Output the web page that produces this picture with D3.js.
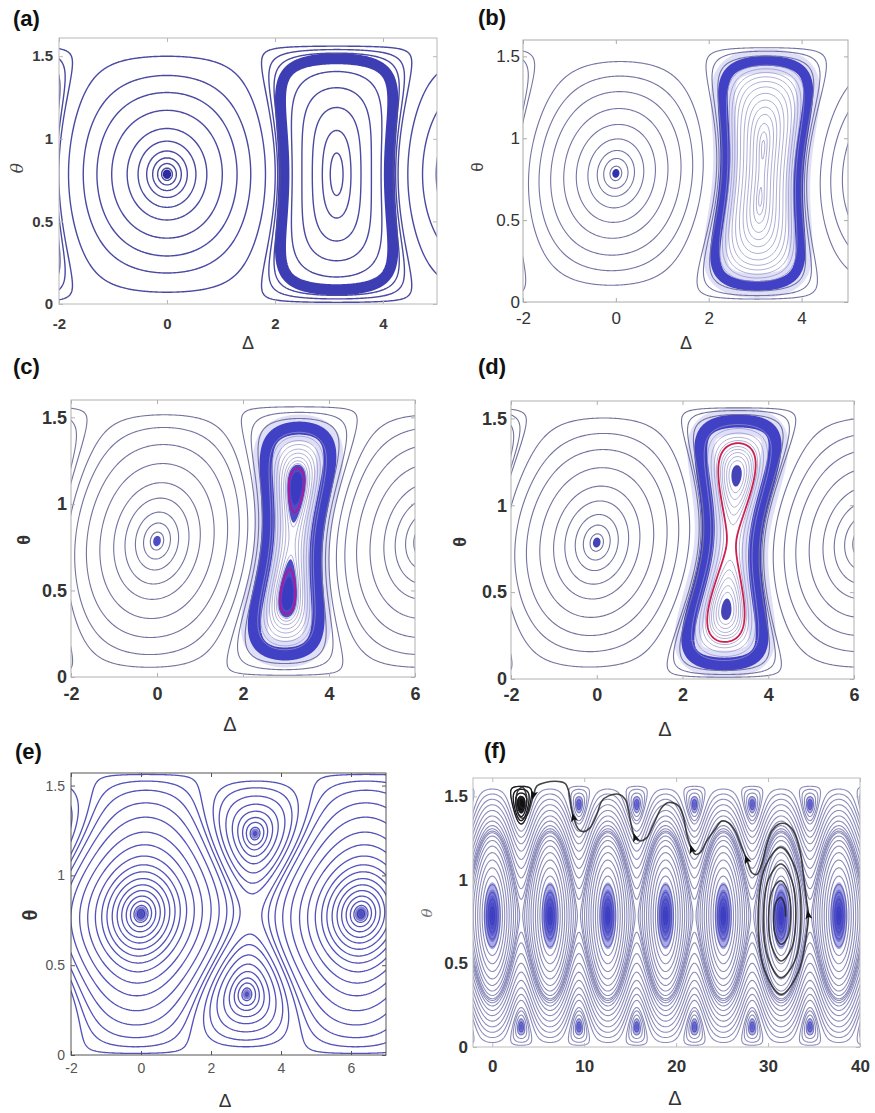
<!DOCTYPE html>
<html>
<head>
<meta charset="utf-8">
<script src="https://cdn.jsdelivr.net/npm/d3@7"></script>
<style>
body { margin: 0; background: #fff; }
svg { display: block; }
</style>
</head>
<body>
<svg id="svg" width="875" height="1113"></svg>
<script>
// ---------------- data ----------------
const panelLabels = ["(a)", "(b)", "(c)", "(d)", "(e)", "(f)"];
// model H = L/2 z^2 + M z^4 - sin(2t) cos(D + k z), with z = cos(2t)
const lambdas = [0.8, 1.05, 1.24, 1.4, 3.52, 4.2];
const quartics = [0, 0, 0, 0, -0.79, 0];
const skews = [0, 0.1, 0.17, 0.17, 0.15, 0];
const deltaRanges = [[-2, 5], [-2, 5], [-2, 6], [-2, 6], [-2, 7], [-2.1, 40]];
const thetaTops = [1.61, 1.6, 1.6, 1.6, 1.57, 1.61];
const deltaTicks = [[-2, 0, 2, 4], [-2, 0, 2, 4], [-2, 0, 2, 4, 6], [-2, 0, 2, 4, 6], [-2, 0, 2, 4, 6], [0, 10, 20, 30, 40]];
const thetaTicks = [0, 0.5, 1, 1.5];

// energy levels of the drawn orbits
const orbitLevels = [
    [-0.995, -0.985, -0.965, -0.93, -0.86, -0.74, -0.52, -0.27, -0.02, 0.25, 0.42, 0.46, 0.5, 0.68, 0.8, 0.9, 0.965, 0.993],
    [-0.992, -0.966, -0.921, -0.825, -0.66, -0.436, -0.17, 0.079, 0.3, 0.56, 0.6, 0.65],
    [-0.988, -0.952, -0.878, -0.739, -0.54, -0.248, 0.059, 0.323, 0.5, 0.64, 0.7, 0.76],
    [-0.988, -0.952, -0.878, -0.739, -0.54, -0.248, 0.059, 0.323, 0.55, 0.72, 0.75, 0.79],
    [-0.995, -0.98, -0.955, -0.913, -0.853, -0.778, -0.682, -0.565, -0.436, -0.267, -0.051, 0.178, 0.416, 0.613, 0.77, 0.877, 0.952,
        1.06, 1.13, 1.21, 1.28, 1.33, 1.365, 1.385, 1.398],
    [-0.97, -0.9, -0.8, -0.65, -0.45, -0.22, 0.02, 0.26, 0.48, 0.67, 0.82, 0.93, 0.985,
        1.06, 1.16, 1.3, 1.45, 1.6, 1.74, 1.86, 1.96, 2.04, 2.12, 2.15, 2.18, 2.2, 2.212]
];
// dense, light orbits inside the attractor band
const faintLevels = [
    [],
    [0.74, 0.77, 0.8, 0.83, 0.86, 0.89, 0.92, 0.945, 0.965, 0.98, 0.992, 0.998, 1.0006],
    [0.87, 0.895, 0.92, 0.94, 0.96, 0.975, 0.988, 0.997, 1.003],
    [0.88, 0.91, 0.94, 0.965, 0.982, 1.008, 1.018, 1.028, 1.038, 1.046],
    [],
    []
];
const bandLevels = [0.56, 0.70, 0.84, 0.85, null, null];   // thick limit-cycle band
const redLevels = [[], [], [1.011], [0.994], [], []];
const minDots = [[-0.997], [-0.997], [-0.996], [-0.996], [-0.985, -0.997], [-0.6, -0.75, -0.85, -0.93, -0.97, -0.99]];
const maxDots = [[], [], [1.005, 1.016], [1.052], [1.4, 1.403], [2.2, 2.21, 2.216]];

// trajectory of panel (f): spiral out of the centre at 31.4, then along the waves to the island at 3.2
const trajDelta = [31.9, 31.8, 31.4, 30.9, 30.62, 30.8, 31.4, 32.1, 32.46, 32.2, 31.4, 30.5, 30.06, 30.4, 31.4, 32.5,
    33.02, 32.6, 31.4, 30.11, 29.5, 30.01, 31.4, 32.89, 33.58, 32.99, 31.4, 29.71, 28.94, 29.61, 31.4, 33.3, 34.2,
    34.38, 34.2, 33.84, 33.48, 32.75, 31.85, 31.12, 30.4, 29.86, 29.31, 28.77, 28.23, 27.68, 27.14, 26.41, 25.69,
    24.96, 24.24, 23.33, 22.61, 22.07, 21.7, 21.16, 20.8, 20.25, 19.17, 18.44, 17.54, 16.81, 16.09, 15.54, 15.18,
    14.82, 14.46, 13.73, 12.64, 11.92, 11.38, 10.65, 9.93, 9.38, 8.84, 8.59, 8.3, 7.93, 7.21, 5.76, 4.86, 4.49,
    4.2, 3.8, 3.2, 2.65, 2.75, 3.3, 3.75, 3.5, 3.0, 3.05, 3.3];
const trajTheta = [0.78, 0.852, 0.895, 0.87, 0.78, 0.672, 0.615, 0.655, 0.78, 0.923, 0.995, 0.941, 0.78, 0.601, 0.515, 0.584,
    0.78, 0.994, 1.095, 1.012, 0.78, 0.531, 0.415, 0.513, 0.78, 1.065, 1.195, 1.082, 0.78, 0.46, 0.315, 0.45, 0.68,
    0.79, 0.87, 1.033, 1.173, 1.293, 1.337, 1.333, 1.293, 1.213, 1.093, 1.033, 1.043, 1.123, 1.193, 1.293, 1.343,
    1.353, 1.303, 1.233, 1.163, 1.153, 1.183, 1.273, 1.373, 1.443, 1.463, 1.433, 1.333, 1.253, 1.233, 1.253, 1.313,
    1.413, 1.483, 1.513, 1.503, 1.473, 1.393, 1.313, 1.289, 1.303, 1.373, 1.433, 1.533, 1.577, 1.589, 1.583, 1.563, 1.508,
    1.45, 1.39, 1.37, 1.43, 1.53, 1.555, 1.49, 1.43, 1.44, 1.5, 1.49];
const arrowAt = [33, 45, 54, 63, 74, 81];

// ---------------- layout and styles ----------------
const boxes = [
    { l: 59, r: 437, t: 38, b: 304 },
    { l: 523, r: 848, t: 40, b: 302 },
    { l: 71, r: 415, t: 400, b: 677 },
    { l: 511, r: 854, t: 401, b: 679 },
    { l: 71, r: 386, t: 773, b: 1055 },
    { l: 473, r: 860, t: 778, b: 1047 }
];
const styles = [
    { line: "#4a4aa2", lw: 1.4, band: "#3434b0", bandW: 11, halo: null, faint: "#9d9dcf", red: null, fill: "#2c2ca0", fillOp: 1,
        frame: "#b8b8b8", font: 15, bold: true, tickColor: "#3a3a3a", xPad: 14, yPad: 6,
        labelX: 13, labelY: 26, thetaX: 17, thetaY: 168, thetaFont: "italic 17px 'DejaVu Serif'", thetaColor: "#444",
        deltaX: 248, deltaY: 349, deltaFont: "18px 'Liberation Sans'" },
    { line: "#7474a4", lw: 1.1, band: "#3838c2", bandW: 10, halo: "#c4c4f0", faint: "#9090c4", red: null, fill: "#3030b0", fillOp: 1,
        frame: "#aaaaaa", font: 17, bold: false, tickColor: "#333", xPad: 10, yPad: 3,
        labelX: 478, labelY: 25, thetaX: 477, thetaY: 167, thetaFont: "17px 'Liberation Sans'", thetaColor: "#444",
        deltaX: 686, deltaY: 349, deltaFont: "18px 'Liberation Sans'" },
    { line: "#73739f", lw: 1.1, band: "#3838c2", bandW: 13, halo: "#c4c4f0", faint: "#9494c8", red: "#b0189c", fill: "#3a3ac0", fillOp: 0.9,
        frame: "#b0b0b0", font: 18, bold: true, tickColor: "#333", xPad: 10, yPad: 4,
        labelX: 13, labelY: 374, thetaX: 24, thetaY: 540, thetaFont: "bold 18px 'Liberation Sans'", thetaColor: "#333",
        deltaX: 230, deltaY: 731, deltaFont: "20px 'Liberation Sans'" },
    { line: "#73739f", lw: 1.1, band: "#3838c2", bandW: 13, halo: "#c4c4f0", faint: "#9494c8", red: "#cc1f4f", fill: "#3030b0", fillOp: 0.9,
        frame: "#b0b0b0", font: 18, bold: true, tickColor: "#333", xPad: 9, yPad: 4,
        labelX: 478, labelY: 374, thetaX: 460, thetaY: 542, thetaFont: "bold 18px 'Liberation Sans'", thetaColor: "#333",
        deltaX: 665, deltaY: 736, deltaFont: "20px 'Liberation Sans'" },
    { line: "#5252ba", lw: 1.3, band: null, bandW: 0, halo: null, faint: null, red: null, fill: "#2e2eb0", fillOp: 0.6,
        frame: "#555555", font: 14, bold: false, tickColor: "#555", xPad: 8, yPad: 6,
        labelX: 15, labelY: 759, thetaX: 30, thetaY: 915, thetaFont: "bold 20px 'Liberation Sans'", thetaColor: "#333",
        deltaX: 225, deltaY: 1107, deltaFont: "19px 'Liberation Sans'" },
    { line: "#8c8cbb", lw: 1.1, band: null, bandW: 0, halo: null, faint: null, red: null, fill: "#3636c0", fillOp: 0.42,
        frame: "#bbbbbb", font: 17, bold: true, tickColor: "#333", xPad: 13, yPad: 5,
        labelX: 484, labelY: 758, thetaX: 427, thetaY: 913, thetaFont: "italic 15px 'DejaVu Serif'", thetaColor: "#777",
        deltaX: 675, deltaY: 1105, deltaFont: "20px 'Liberation Sans'" }
];

const svg = d3.select("#svg");
panelLabels.forEach((label, p) => drawPanel(p));

function hamiltonian(delta, theta, lam, mu, kap) {
    const z = Math.cos(2 * theta), s = Math.sin(2 * theta);
    return lam / 2 * z * z + mu * z * z * z * z - s * Math.cos(delta + kap * z);
}

function drawPanel(p) {
    const box = boxes[p], st = styles[p];
    const xScale = d3.scaleLinear().domain(deltaRanges[p]).range([box.l, box.r]);
    const yScale = d3.scaleLinear().domain([0, thetaTops[p]]).range([box.b, box.t]);

    // sample grid a little wider than the box so the boundary rings fall outside the clip
    const nx = Math.round(box.r - box.l) + 9, ny = Math.round(box.b - box.t) + 9;
    const d0 = xScale.invert(box.l - 4), d1 = xScale.invert(box.r + 4);
    const t0 = yScale.invert(box.b + 4), t1 = yScale.invert(box.t - 4);
    const dStep = (d1 - d0) / (nx - 1), tStep = (t1 - t0) / (ny - 1);
    const values = new Float64Array(nx * ny);
    for (let j = 0; j < ny; j++)
        for (let i = 0; i < nx; i++)
            values[j * nx + i] = hamiltonian(d0 + i * dStep, t0 + j * tStep, lambdas[p], quartics[p], skews[p]);
    const negValues = values.map(v => -v);

    const path = d3.geoPath(d3.geoTransform({
        point: function (gx, gy) {
            this.stream.point(xScale(d0 + (gx - 0.5) * dStep), yScale(t0 + (gy - 0.5) * tStep));
        }
    }));
    const contours = d3.contours().size([nx, ny]);

    // theta only lives on [0, pi/2]
    const clipTop = Math.max(box.t, yScale(Math.PI / 2));
    svg.append("clipPath").attr("id", "clip" + p).append("rect")
        .attr("x", box.l).attr("y", clipTop).attr("width", box.r - box.l).attr("height", box.b - clipTop);
    const g = svg.append("g").attr("clip-path", "url(#clip" + p + ")");
    // the band belongs to the island around pi only
    const bandLeft = xScale(1);
    svg.append("clipPath").attr("id", "clipBand" + p).append("rect")
        .attr("x", bandLeft).attr("y", clipTop).attr("width", box.r - bandLeft).attr("height", box.b - clipTop);
    const bandG = g.append("g").attr("clip-path", "url(#clipBand" + p + ")");

    function strokeLevels(levels, color, width, opacity, target) {
        if (!levels.length) return;
        (target || g).append("g").selectAll("path")
            .data(contours.thresholds(levels)(values))
            .join("path")
            .attr("d", path)
            .attr("fill", "none")
            .attr("stroke", color)
            .attr("stroke-width", width)
            .attr("stroke-opacity", opacity)
            .attr("stroke-linejoin", "round");
    }
    function fillLevels(levels, vals, color, opacity, target) {
        if (!levels.length) return;
        (target || g).append("g").selectAll("path")
            .data(contours.thresholds(levels)(vals))
            .join("path")
            .attr("d", path)
            .attr("fill", color)
            .attr("fill-opacity", opacity);
    }

    strokeLevels(faintLevels[p], st.faint, 0.8, 0.9);
    strokeLevels(orbitLevels[p], st.line, st.lw, 1);
    if (bandLevels[p] !== null) {
        if (st.halo) strokeLevels([bandLevels[p]], st.halo, st.bandW + 14, 0.55, bandG);
        strokeLevels([bandLevels[p]], st.band, st.bandW, 0.95, bandG);
    }
    fillLevels(maxDots[p], values, st.fill, st.fillOp);
    fillLevels(minDots[p].map(v => -v), negValues, st.fill, st.fillOp);
    if (st.red) strokeLevels(redLevels[p], st.red, 1.8, 1);

    if (p === 5) {
        // the island reached by the trajectory is drawn dark
        svg.append("clipPath").attr("id", "clipIsland").append("rect")
            .attr("x", xScale(1.4)).attr("y", clipTop)
            .attr("width", xScale(5.0) - xScale(1.4)).attr("height", yScale(1.2) - clipTop);
        const dark = svg.append("g").attr("clip-path", "url(#clipIsland)");
        strokeLevels(orbitLevels[p].filter(v => v > lambdas[p] / 2), "#1c1c1c", 1.3, 1, dark);
        fillLevels(maxDots[p], values, "#111", 0.9, dark);

        const traj = trajDelta.map((d, i) => [d, trajTheta[i]]);
        svg.append("clipPath").attr("id", "clipBox5").append("rect")
            .attr("x", box.l).attr("y", box.t).attr("width", box.r - box.l).attr("height", box.b - box.t);
        const tg = svg.append("g").attr("clip-path", "url(#clipBox5)");
        tg.append("path")
            .datum(traj)
            .attr("d", d3.line().x(d => xScale(d[0])).y(d => yScale(d[1])).curve(d3.curveCatmullRom))
            .attr("fill", "none")
            .attr("stroke", "#262626")
            .attr("stroke-opacity", 0.85)
            .attr("stroke-width", 1.6);
        // arrow heads along the direction of motion
        tg.selectAll("path.arrow")
            .data(arrowAt)
            .join("path")
            .attr("class", "arrow")
            .attr("d", "M5,0 L-4,-3.5 L-2,0 L-4,3.5 Z")
            .attr("fill", "#111")
            .attr("transform", i => {
                const x0 = xScale(traj[i][0]), y0 = yScale(traj[i][1]);
                const x1 = xScale(traj[i + 1][0]), y1 = yScale(traj[i + 1][1]);
                const ang = Math.atan2(y1 - y0, x1 - x0) * 180 / Math.PI;
                return "translate(" + x0 + "," + y0 + ") rotate(" + ang + ")";
            });
    }

    // frame
    svg.append("rect")
        .attr("x", box.l).attr("y", box.t)
        .attr("width", box.r - box.l).attr("height", box.b - box.t)
        .attr("fill", "none").attr("stroke", st.frame).attr("stroke-width", 1);

    const fmt = d => String(d);
    const styleAxis = sel => {
        sel.select(".domain").remove();
        sel.selectAll(".tick line").attr("stroke", st.frame);
        sel.attr("font-family", "'Liberation Sans', Arial, sans-serif")
            .attr("font-size", st.font)
            .attr("font-weight", st.bold ? "bold" : "normal");
        sel.selectAll("text").attr("fill", st.tickColor);
    };
    svg.append("g").attr("transform", "translate(0," + box.b + ")")
        .call(d3.axisBottom(xScale).tickValues(deltaTicks[p]).tickSizeInner(-4).tickSizeOuter(0).tickPadding(st.xPad).tickFormat(fmt))
        .call(styleAxis);
    svg.append("g").attr("transform", "translate(0," + box.t + ")")
        .call(d3.axisTop(xScale).tickValues(deltaTicks[p]).tickSizeInner(-4).tickSizeOuter(0).tickFormat(""))
        .call(styleAxis);
    svg.append("g").attr("transform", "translate(" + box.l + ",0)")
        .call(d3.axisLeft(yScale).tickValues(thetaTicks).tickSizeInner(-4).tickSizeOuter(0).tickPadding(st.yPad).tickFormat(fmt))
        .call(styleAxis);
    svg.append("g").attr("transform", "translate(" + box.r + ",0)")
        .call(d3.axisRight(yScale).tickValues(thetaTicks).tickSizeInner(-4).tickSizeOuter(0).tickFormat(""))
        .call(styleAxis);

    // panel letter and axis titles
    svg.append("text")
        .attr("x", st.labelX).attr("y", st.labelY)
        .style("font", "bold 22px 'Liberation Sans', Arial, sans-serif")
        .attr("fill", "#111")
        .text(panelLabels[p]);
    svg.append("text")
        .attr("transform", "translate(" + st.thetaX + "," + st.thetaY + ") rotate(-90)")
        .attr("text-anchor", "middle")
        .attr("dominant-baseline", "central")
        .style("font", st.thetaFont)
        .attr("fill", st.thetaColor)
        .text("θ");
    svg.append("text")
        .attr("x", st.deltaX).attr("y", st.deltaY)
        .attr("text-anchor", "middle")
        .style("font", st.deltaFont)
        .attr("fill", "#333")
        .text("Δ");
}
</script>
</body>
</html>
